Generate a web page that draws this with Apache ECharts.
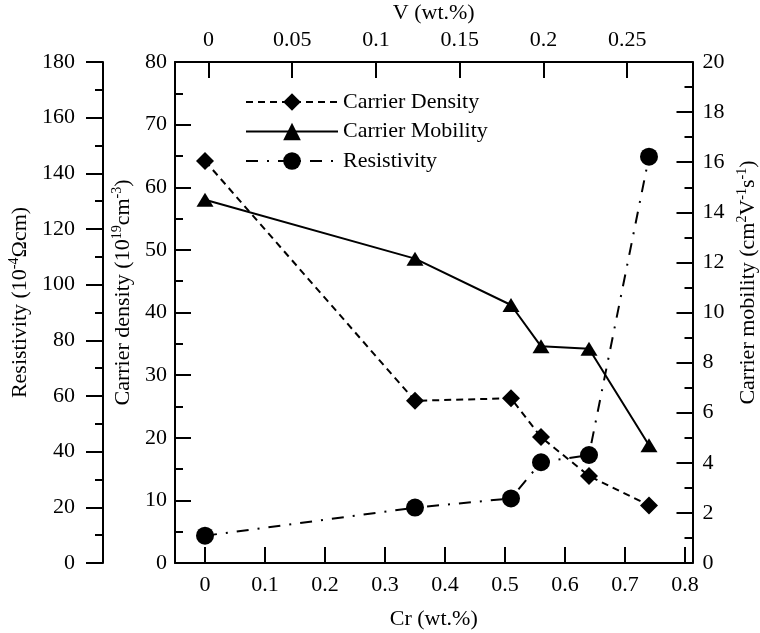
<!DOCTYPE html>
<html>
<head>
<meta charset="utf-8">
<script src="https://cdn.jsdelivr.net/npm/echarts@6/dist/echarts.min.js"></script>
<style>
html,body{margin:0;padding:0;background:#fff;}
#chart{width:760px;height:633px;}
</style>
</head>
<body>
<div id="chart"></div>
<script>
// ---- data ----
const crValues = [0, 0.35, 0.51, 0.56, 0.64, 0.74];
const carrierDensity = [64.2, 25.9, 26.3, 20.1, 13.9, 9.2];
const carrierMobility = [14.5, 12.15, 10.3, 8.65, 8.55, 4.7];
const resistivity = [9.8, 19.9, 23.2, 36.2, 38.8, 146];
const crTicks = [0, 0.1, 0.2, 0.3, 0.4, 0.5, 0.6, 0.7, 0.8];
const vTicks = [0, 0.05, 0.1, 0.15, 0.2, 0.25];

const FONT = 'Liberation Serif';
const FS = 22;
const BLACK = '#000';
const pairs = (ys) => crValues.map((x, i) => [x, ys[i]]);

const richName = {
  n: { fontFamily: FONT, fontSize: FS, color: BLACK, lineHeight: 26 },
  s: { fontFamily: FONT, fontSize: 14, color: BLACK, lineHeight: 14, verticalAlign: 'top' }
};
const lineStyleAxis = { color: BLACK, width: 2 };
const labelStyle = { fontFamily: FONT, fontSize: FS, color: BLACK };

function yAxisBase(extra) {
  return Object.assign({
    type: 'value',
    splitLine: { show: false },
    axisLine: { show: true, onZero: false, lineStyle: lineStyleAxis },
    axisTick: { show: true, inside: true, length: 16, lineStyle: lineStyleAxis },
    minorTick: { show: true, splitNumber: 2, length: 8, lineStyle: lineStyleAxis },
    minorSplitLine: { show: false },
    axisLabel: Object.assign({ margin: 8 }, labelStyle),
    nameLocation: 'middle'
  }, extra);
}

const chart = echarts.init(document.getElementById('chart'), null, { renderer: 'canvas' });
chart.setOption({
  backgroundColor: '#fff',
  animation: false,
  textStyle: { fontFamily: FONT, color: BLACK },
  grid: { left: 175, right: 67.5, top: 62, bottom: 70, containLabel: false, outerBoundsMode: 'none' },
  legend: {
    orient: 'vertical',
    left: 240,
    top: 86,
    itemWidth: 92,
    itemHeight: 22,
    itemGap: 7.5,
    textStyle: { fontFamily: FONT, fontSize: FS, color: BLACK },
    data: ['Carrier Density', 'Carrier Mobility', 'Resistivity']
  },
  xAxis: [
    {
      type: 'value', position: 'bottom',
      min: -0.05, max: 0.8125,
      splitLine: { show: false },
      axisLine: { show: true, onZero: false, lineStyle: lineStyleAxis },
      axisTick: { show: true, inside: true, length: 16, lineStyle: lineStyleAxis, customValues: crTicks },
      axisLabel: Object.assign({ margin: 11, customValues: crTicks }, labelStyle),
      name: 'Cr (wt.%)', nameLocation: 'middle', nameGap: 45,
      nameTextStyle: { fontFamily: FONT, fontSize: FS, color: BLACK }
    },
    {
      type: 'value', position: 'top',
      min: -0.02, max: 0.289,
      splitLine: { show: false },
      axisLine: { show: true, onZero: false, lineStyle: lineStyleAxis },
      axisTick: { show: true, inside: true, length: 16, lineStyle: lineStyleAxis, customValues: vTicks },
      axisLabel: Object.assign({ margin: 11, customValues: vTicks }, labelStyle),
      name: 'V (wt.%)', nameLocation: 'middle', nameGap: 36,
      nameTextStyle: { fontFamily: FONT, fontSize: FS, color: BLACK }
    }
  ],
  yAxis: [
    yAxisBase({
      position: 'left', min: 0, max: 80, interval: 10,
      name: '{n|Carrier density (10}{s|19}{n|cm}{s|-3}{n|)}', nameGap: 37,
      nameTextStyle: { rich: richName, padding: [0, 0, 0, 40] }
    }),
    yAxisBase({
      position: 'left', offset: 72, min: 0, max: 180, interval: 20,
      axisTick: { show: true, inside: false, length: 17, lineStyle: lineStyleAxis },
      minorTick: { show: true, splitNumber: 2, length: 8, lineStyle: lineStyleAxis },
      axisLabel: Object.assign({ margin: 28 }, labelStyle),
      name: '{n|Resistivity (10}{s|-4}{n|Ωcm)}', nameGap: 66,
      nameTextStyle: { rich: richName, padding: [0, 0, 0, 20] }
    }),
    yAxisBase({
      position: 'right', min: 0, max: 20, interval: 2,
      axisLabel: Object.assign({ margin: 10 }, labelStyle),
      name: '{n|Carrier mobility (cm}{s|2}{n|V}{s|-1}{n|s}{s|-1}{n|)}', nameGap: 42,
      nameTextStyle: { rich: richName, padding: [0, 0, 0, 60] }
    })
  ],
  series: [
    {
      name: 'Carrier Density', type: 'line', xAxisIndex: 0, yAxisIndex: 0,
      data: pairs(carrierDensity),
      symbol: 'diamond', symbolSize: 18,
      itemStyle: { color: BLACK },
      lineStyle: { color: BLACK, width: 2, type: [7, 5] }
    },
    {
      name: 'Carrier Mobility', type: 'line', xAxisIndex: 0, yAxisIndex: 2,
      data: pairs(carrierMobility),
      symbol: 'triangle', symbolSize: [17, 14],
      itemStyle: { color: BLACK },
      lineStyle: { color: BLACK, width: 2, type: 'solid' }
    },
    {
      name: 'Resistivity', type: 'line', xAxisIndex: 0, yAxisIndex: 1,
      data: pairs(resistivity),
      symbol: 'circle', symbolSize: 18,
      itemStyle: { color: BLACK },
      lineStyle: { color: BLACK, width: 2, type: [12, 9, 2, 9] }
    }
  ]
});
</script>
</body>
</html>
